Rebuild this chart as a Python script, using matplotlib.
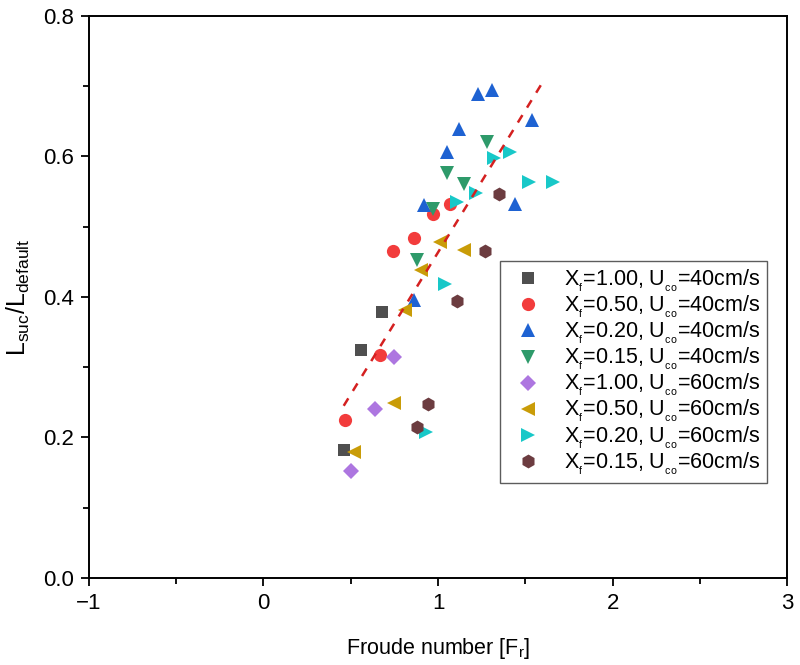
import matplotlib
matplotlib.use("Agg")
from matplotlib import pyplot as plt
from matplotlib.ticker import MultipleLocator

plt.rcParams['font.family'] = ['Liberation Sans', 'DejaVu Sans']
plt.rcParams['mathtext.default'] = 'regular'

# Xf=1.00, U=40
fr_a = [0.46, 0.56, 0.68]
l_a = [0.182, 0.324, 0.378]
# Xf=0.50, U=40
fr_b = [0.47, 0.67, 0.74, 0.86, 0.97, 1.07]
l_b = [0.225, 0.317, 0.466, 0.484, 0.518, 0.533]
# Xf=0.20, U=40
fr_c = [0.86, 0.92, 1.05, 1.12, 1.23, 1.31, 1.44, 1.54]
l_c = [0.395, 0.531, 0.606, 0.639, 0.689, 0.694, 0.533, 0.652]
# Xf=0.15, U=40
fr_d = [0.88, 0.97, 1.05, 1.15, 1.28]
l_d = [0.452, 0.525, 0.577, 0.561, 0.620]
# Xf=1.00, U=60
fr_e = [0.50, 0.64, 0.75]
l_e = [0.152, 0.241, 0.315]
# Xf=0.50, U=60
fr_f = [0.52, 0.75, 0.81, 0.90, 1.01, 1.15]
l_f = [0.179, 0.249, 0.381, 0.438, 0.478, 0.467]
# Xf=0.20, U=60
fr_g = [0.93, 1.04, 1.11, 1.22, 1.32, 1.41, 1.52, 1.66]
l_g = [0.208, 0.419, 0.535, 0.548, 0.598, 0.607, 0.564, 0.563]
# Xf=0.15, U=60
fr_h = [0.88, 0.94, 1.11, 1.27, 1.35]
l_h = [0.215, 0.247, 0.394, 0.466, 0.546]

# dashed trend line
fit_x = [0.46, 1.61]
fit_y = [0.245, 0.710]

xf_vals = ['1.00', '0.50', '0.20', '0.15', '1.00', '0.50', '0.20', '0.15']
uco_vals = ['40', '40', '40', '40', '60', '60', '60', '60']
labels = [r'X$_{_f}$=%s, U$_{_{co}}$=%scm/s' % (a, b) for a, b in zip(xf_vals, uco_vals)]

series = [
    (fr_a, l_a, 's', '#4f4f4f', 8.5),
    (fr_b, l_b, 'o', '#f23c3c', 9.5),
    (fr_c, l_c, '^', '#1e62d2', 10.5),
    (fr_d, l_d, 'v', '#2e9a6a', 10.5),
    (fr_e, l_e, 'D', '#ad76e0', 8.5),
    (fr_f, l_f, '<', '#c99c08', 10.5),
    (fr_g, l_g, '>', '#18c8c8', 10.5),
    (fr_h, l_h, 'h', '#6c3c40', 10),
]

fig = plt.figure(figsize=(8, 6.65), dpi=100)
ax = fig.add_axes([0.111, 0.131, 0.873, 0.845])

for (x, y, m, c, ms), lab in zip(series, labels):
    ax.plot(x, y, linestyle='none', marker=m, color=c, markersize=ms,
            markeredgewidth=0, label=lab)

ax.plot(fit_x, fit_y, linestyle=(0, (3.5, 3.5)), color='#d42020', linewidth=1.8)

ax.set_xlim(-1, 3)
ax.set_ylim(0, 0.8)
ax.xaxis.set_major_locator(MultipleLocator(1))
ax.xaxis.set_minor_locator(MultipleLocator(0.5))
ax.yaxis.set_major_locator(MultipleLocator(0.2))
ax.yaxis.set_minor_locator(MultipleLocator(0.1))
ax.yaxis.set_major_formatter(plt.FormatStrFormatter('%.1f'))
ax.tick_params(which='major', direction='out', length=6, width=1.3,
               labelsize=16, pad=5)
ax.tick_params(which='minor', direction='out', length=4, width=1.3)
for sp in ax.spines.values():
    sp.set_linewidth(1.4)

ax.set_xlabel(r'Froude number [F$_r$]', fontsize=15.5, labelpad=16)
ax.set_ylabel(r'L$_{suc}$/L$_{default}$', fontsize=18, labelpad=8)

ax.legend(loc='center right', bbox_to_anchor=(0.971, 0.366), fontsize=15.5,
          frameon=True, fancybox=False, edgecolor='#333333',
          handletextpad=0.7, labelspacing=0.0, borderpad=0.3,
          handlelength=2.0, borderaxespad=0)

fig.savefig('out.png', dpi=100)
